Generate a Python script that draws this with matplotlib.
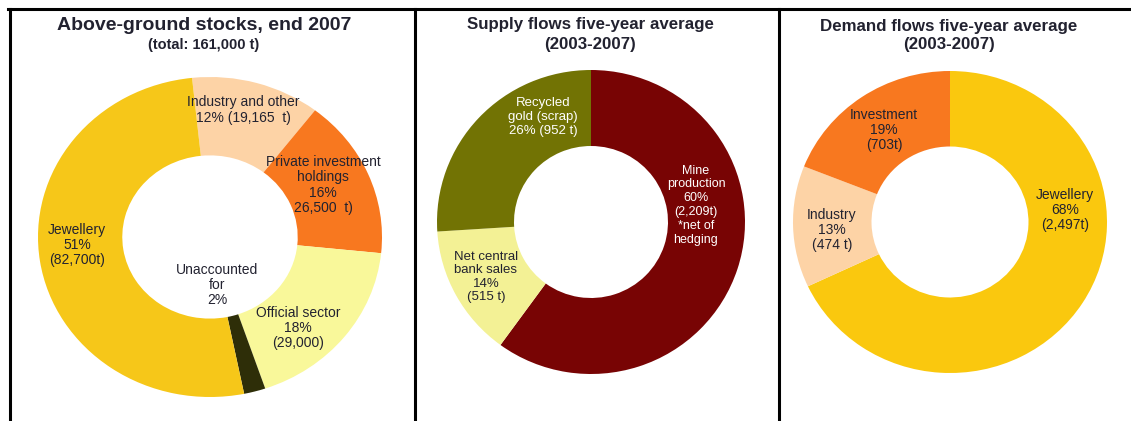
import matplotlib
matplotlib.use("Agg")
import matplotlib.pyplot as plt
from matplotlib.lines import Line2D

plt.rcParams['font.family'] = ['Liberation Sans', 'DejaVu Sans']

# DATA
stock_labels = ["Industry and other", "Private investment holdings", "Official sector",
                "Unaccounted for", "Jewellery"]
stock_pct = [12, 16, 18, 2, 51]
stock_tonnes = [19165, 26500, 29000, None, 82700]
stock_colors = ["#FDD3A6", "#F8781F", "#F9F89A", "#2E2E08", "#F6C719"]

supply_labels = ["Mine production", "Net central bank sales", "Recycled gold (scrap)"]
supply_pct = [60, 14, 26]
supply_tonnes = [2209, 515, 952]
supply_colors = ["#780404", "#F3F195", "#727304"]

demand_labels = ["Jewellery", "Industry", "Investment"]
demand_pct = [68, 13, 19]
demand_tonnes = [2497, 474, 703]
demand_colors = ["#FAC80E", "#FDD3A6", "#F8781F"]

W, H = 1131, 421
TXT = "#222230"

fig = plt.figure(figsize=(W / 100, H / 100), dpi=100)


def donut_axes(cx, cy, rx, ry):
    # position an axes (pixels -> figure fraction) so the unit pie fills it
    return fig.add_axes([(cx - rx) / W, (H - cy - ry) / H, 2 * rx / W, 2 * ry / H])


def draw_donut(ax, values, colors, start, width):
    ax.pie(values, colors=colors, startangle=start, counterclock=False,
           radius=1.0, wedgeprops=dict(width=width, linewidth=0))
    ax.set_aspect("auto")
    ax.set_xlim(-1, 1)
    ax.set_ylim(-1, 1)
    ax.axis("off")


# Panel 1 - above-ground stocks
ax1 = donut_axes(210, 237, 172, 160)
draw_donut(ax1, stock_pct, stock_colors, 96, 0.49)

# Panel 2 - supply flows
ax2 = donut_axes(591, 222, 154, 152)
draw_donut(ax2, supply_pct, supply_colors, 90, 0.5)

# Panel 3 - demand flows
ax3 = donut_axes(950, 222, 157, 151)
draw_donut(ax3, demand_pct, demand_colors, 90, 0.5)


def ftext(x, y, s, **kw):
    # pixel coords (top-left origin) -> figure text
    kw.setdefault("linespacing", 1.1)
    fig.text(x / W, 1 - y / H, s, ha="center", va="center", **kw)


# titles
ftext(204, 26, "Above-ground stocks, end 2007", fontsize=14, fontweight="bold", color=TXT)
ftext(204, 45, "(total: 161,000 t)", fontsize=10.5, fontweight="bold", color=TXT)
ftext(590, 25, "Supply flows five-year average", fontsize=12.2, fontweight="bold", color=TXT)
ftext(590, 44, "(2003-2007)", fontsize=12.2, fontweight="bold", color=TXT)
ftext(949, 26, "Demand flows five-year average", fontsize=12.2, fontweight="bold", color=TXT)
ftext(949, 45, "(2003-2007)", fontsize=12.2, fontweight="bold", color=TXT)

# labels, panel 1
fs = 10
ftext(243, 110, "Industry and other\n%d%% (%s  t)" % (stock_pct[0], f"{stock_tonnes[0]:,}"),
      fontsize=fs, color=TXT)
ftext(323, 185, "Private investment\nholdings\n%d%%\n%s  t)" % (stock_pct[1], f"{stock_tonnes[1]:,}"),
      fontsize=fs, color=TXT)
ftext(77, 245, "Jewellery\n%d%%\n(%st)" % (stock_pct[4], f"{stock_tonnes[4]:,}"),
      fontsize=fs, color=TXT)
ftext(217, 285, "Unaccounted\nfor\n%d%%" % stock_pct[3], fontsize=fs, color=TXT)
ftext(298, 328, "Official sector\n%d%%\n(%s)" % (stock_pct[2], f"{stock_tonnes[2]:,}"),
      fontsize=fs, color=TXT)

# labels, panel 2
ftext(543, 117, "Recycled\ngold (scrap)\n%d%% (%d t)" % (supply_pct[2], supply_tonnes[2]),
      fontsize=9.5, color="white", linespacing=1.2)
ftext(696, 205, "Mine\nproduction\n%d%%\n(%st)\n*net of\nhedging" % (supply_pct[0], f"{supply_tonnes[0]:,}"),
      fontsize=9, color="white", linespacing=1.2)
ftext(486, 277, "Net central\nbank sales\n%d%%\n(%d t)" % (supply_pct[1], supply_tonnes[1]),
      fontsize=9.5, color=TXT, linespacing=1.15)

# labels, panel 3
ftext(884, 130, "Investment\n%d%%\n(%dt)" % (demand_pct[2], demand_tonnes[2]), fontsize=fs, color=TXT)
ftext(832, 230, "Industry\n%d%%\n(%d t)" % (demand_pct[1], demand_tonnes[1]), fontsize=fs, color=TXT)
ftext(1065, 210, "Jewellery\n%d%%\n(%st)" % (demand_pct[0], f"{demand_tonnes[0]:,}"),
      fontsize=fs, color=TXT)

# frame lines between panels
for xs, ys in [((8, W), (9, 9)), ((9.5, 9.5), (9, H)), ((415, 415), (9, H)), ((779, 779), (9, H))]:
    fig.add_artist(Line2D([x / W for x in xs], [1 - y / H for y in ys],
                          color="black", linewidth=2.2, transform=fig.transFigure))

fig.savefig("out.png", dpi=100, facecolor="white")
